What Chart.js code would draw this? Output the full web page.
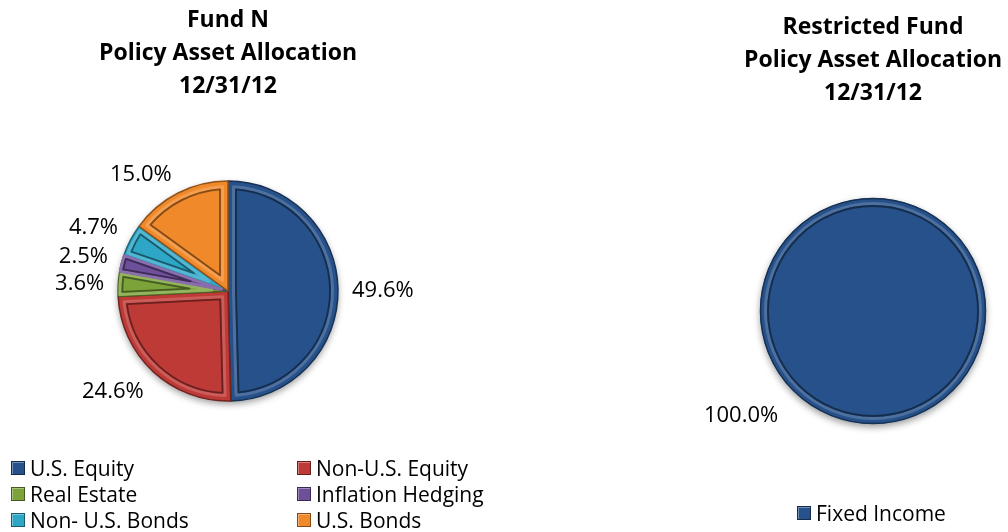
<!DOCTYPE html>
<html>
<head>
<meta charset="utf-8">
<script src="https://cdn.jsdelivr.net/npm/chart.js@4.4.1/dist/chart.umd.min.js"></script>
<style>
  html, body { margin: 0; padding: 0; background: #fff; }
  body { width: 1008px; height: 532px; position: relative; overflow: hidden; font-family: "Open Sans", "Liberation Sans", sans-serif; }
  .chart { position: absolute; top: 0; height: 532px; }
  #fundBox { left: 0; width: 470px; }
  #restrictedBox { left: 680px; width: 328px; }
  .legend { position: absolute; font-size: 21px; color: #000; }
  .legend .item { position: absolute; white-space: nowrap; display: flex; align-items: center; height: 26px; }
  .legend .swatch { width: 14px; height: 14px; margin-right: 5px; box-sizing: border-box; }
</style>
</head>
<body>
<div class="chart" id="fundBox"><canvas id="fund"></canvas></div>
<div class="chart" id="restrictedBox"><canvas id="restricted"></canvas></div>
<div class="legend" id="fundLegend"></div>
<div class="legend" id="restrictedLegend"></div>

<script>
// Fund N policy allocation
const fundLabels = ["U.S. Equity", "Non-U.S. Equity", "Real Estate", "Inflation Hedging", "Non- U.S. Bonds", "U.S. Bonds"];
const fundValues = [49.6, 24.6, 3.6, 2.5, 4.7, 15.0];
const fundColors = ["#27518A", "#BE3A36", "#7BA33A", "#6E4F9A", "#2EA6C6", "#F0892A"];

// Restricted fund policy allocation
const restrictedLabels = ["Fixed Income"];
const restrictedValues = [100.0];
const restrictedColors = ["#27518A"];

const fundTitle = ["Fund N", "Policy Asset Allocation", "12/31/12"];
const restrictedTitle = ["Restricted Fund", "Policy Asset Allocation", "12/31/12"];

const FONT = "'Open Sans', 'Liberation Sans', sans-serif";

function shade(hex, f) {
  const n = parseInt(hex.slice(1), 16);
  let r = (n >> 16) & 255, g = (n >> 8) & 255, b = n & 255;
  if (f < 0) { r *= 1 + f; g *= 1 + f; b *= 1 + f; }
  else { r += (255 - r) * f; g += (255 - g) * f; b += (255 - b) * f; }
  return "rgb(" + Math.round(r) + "," + Math.round(g) + "," + Math.round(b) + ")";
}

function isFull(p) {
  return p.endAngle - p.startAngle >= Math.PI * 2 - 1e-6;
}

// soft drop shadow under the whole pie
const pieShadow = {
  id: "pieShadow",
  beforeDatasetsDraw(chart) {
    const arc = chart.getDatasetMeta(0).data[0];
    if (!arc) return;
    const {x, y, outerRadius} = arc.getProps(["x", "y", "outerRadius"], true);
    const ctx = chart.ctx;
    ctx.save();
    ctx.shadowColor = "rgba(0,0,0,0.4)";
    ctx.shadowBlur = 7;
    ctx.shadowOffsetY = 3;
    ctx.fillStyle = "#fff";
    ctx.beginPath();
    ctx.arc(x, y, outerRadius, 0, Math.PI * 2);
    ctx.fill();
    ctx.restore();
  }
};

// bevelled look: an inner outline a few pixels inside every slice
function insetPath(ctx, p, inset) {
  const sweep = p.endAngle - p.startAngle;
  const r = p.outerRadius - inset;
  ctx.beginPath();
  if (isFull(p)) {
    ctx.arc(p.x, p.y, r, 0, Math.PI * 2);
    return true;
  }
  const half = sweep / 2;
  const apex = inset / Math.sin(half);
  const delta = Math.asin(inset / r);
  if (apex > r - 4 || delta * 2 >= sweep) return false;
  const mid = p.startAngle + half;
  ctx.moveTo(p.x + Math.cos(mid) * apex, p.y + Math.sin(mid) * apex);
  ctx.arc(p.x, p.y, r, p.startAngle + delta, p.endAngle - delta);
  ctx.closePath();
  return true;
}

const bevel = {
  id: "bevel",
  afterDatasetsDraw(chart) {
    const ctx = chart.ctx;
    const ds = chart.data.datasets[0];
    chart.getDatasetMeta(0).data.forEach((arc, i) => {
      const p = arc.getProps(["x", "y", "startAngle", "endAngle", "outerRadius"], true);
      const half = (p.endAngle - p.startAngle) / 2;
      const inset = Math.min(8, p.outerRadius * Math.sin(Math.min(half, Math.PI / 2)) * 0.35);
      const base = ds.backgroundColor[i];
      ctx.save();
      ctx.lineJoin = "round";
      if (isFull(p)) {
        // a lone slice gets no border from the library, so draw its rim here
        ctx.beginPath();
        ctx.arc(p.x, p.y, p.outerRadius - 0.5, 0, Math.PI * 2);
        ctx.strokeStyle = shade(base, -0.4);
        ctx.lineWidth = 1.5;
        ctx.stroke();
      }
      if (insetPath(ctx, p, inset - 2.5)) {
        ctx.strokeStyle = shade(base, 0.18);
        ctx.lineWidth = 3;
        ctx.stroke();
      }
      if (insetPath(ctx, p, inset)) {
        ctx.strokeStyle = shade(base, -0.45);
        ctx.lineWidth = 1.8;
        ctx.stroke();
      }
      ctx.restore();
    });
  }
};

// percentage labels just outside the rim
const outsideLabels = {
  id: "outsideLabels",
  afterDraw(chart, args, opts) {
    const ctx = chart.ctx;
    const ds = chart.data.datasets[0];
    ctx.save();
    ctx.font = "22px " + FONT;
    ctx.fillStyle = "#000";
    ctx.textAlign = "center";
    ctx.textBaseline = "middle";
    const boxes = [];
    chart.getDatasetMeta(0).data.forEach((arc, i) => {
      const p = arc.getProps(["x", "y", "startAngle", "endAngle", "outerRadius"], true);
      const mid = isFull(p) ? opts.fullAngle : (p.startAngle + p.endAngle) / 2;
      const dx = Math.cos(mid), dy = Math.sin(mid);
      const text = ds.data[i].toFixed(1) + "%";
      const w = ctx.measureText(text).width, h = 16;
      const d = p.outerRadius + opts.gap;
      const clamp = v => Math.max(-1, Math.min(1, v * 2.5));
      boxes.push({
        text,
        x: p.x + dx * d + clamp(dx) * w / 2,
        y: p.y + dy * d + clamp(dy) * h / 2 + 2,
        left: dx < 0
      });
    });
    // keep neighbouring labels on one side from overlapping
    [true, false].forEach(side => {
      const col = boxes.filter(b => b.left === side).sort((a, b) => a.y - b.y);
      for (let k = 1; k < col.length; k++) {
        if (col[k].y - col[k - 1].y < opts.minGap) col[k].y = col[k - 1].y + opts.minGap;
      }
    });
    boxes.forEach(b => ctx.fillText(b.text, b.x, b.y));
    ctx.restore();
  }
};

function makeChart(id, labels, values, colors, title, cfg) {
  return new Chart(document.getElementById(id), {
    type: "pie",
    data: {
      labels: labels,
      datasets: [{
        data: values,
        backgroundColor: colors,
        borderColor: colors.map(c => shade(c, -0.4)),
        borderWidth: values.length > 1 ? 1.5 : 0,
        radius: cfg.radius
      }]
    },
    options: {
      responsive: true,
      maintainAspectRatio: false,
      animation: false,
      layout: { padding: cfg.padding },
      plugins: {
        legend: { display: false },
        tooltip: { enabled: false },
        title: {
          display: true,
          text: title,
          color: "#000",
          font: { family: FONT, size: 23, weight: "bold", lineHeight: "33px" },
          padding: { top: 0, bottom: cfg.titleGap }
        },
        outsideLabels: { gap: cfg.labelGap, minGap: 27, fullAngle: Math.PI * 0.75 }
      }
    },
    plugins: [pieShadow, bevel, outsideLabels]
  });
}

makeChart("fund", fundLabels, fundValues, fundColors, fundTitle,
  { radius: 110, padding: { top: 4, left: 93, right: 107, bottom: 131 }, titleGap: 78, labelGap: 14 });
makeChart("restricted", restrictedLabels, restrictedValues, restrictedColors, restrictedTitle,
  { radius: 113, padding: { top: 11, left: 58, right: 0, bottom: 111 }, titleGap: 91, labelGap: 21 });

// legends built from the same label and colour arrays
function buildLegend(el, labels, colors, spots) {
  labels.forEach((name, i) => {
    const item = document.createElement("div");
    item.className = "item";
    item.style.left = spots[i][0] + "px";
    item.style.top = spots[i][1] + "px";
    const sw = document.createElement("span");
    sw.className = "swatch";
    sw.style.background = colors[i];
    sw.style.border = "1.5px solid " + shade(colors[i], -0.45);
    sw.style.boxShadow = "inset 1px 1px 0 " + shade(colors[i], 0.35);
    item.appendChild(sw);
    item.appendChild(document.createTextNode(name));
    el.appendChild(item);
  });
}
const colX = [11, 297], rowY = [455, 481, 507];
buildLegend(document.getElementById("fundLegend"), fundLabels, fundColors,
  fundLabels.map((_, i) => [colX[i % 2], rowY[Math.floor(i / 2)]]));
buildLegend(document.getElementById("restrictedLegend"), restrictedLabels, restrictedColors,
  [[797, 500]]);
</script>
</body>
</html>
